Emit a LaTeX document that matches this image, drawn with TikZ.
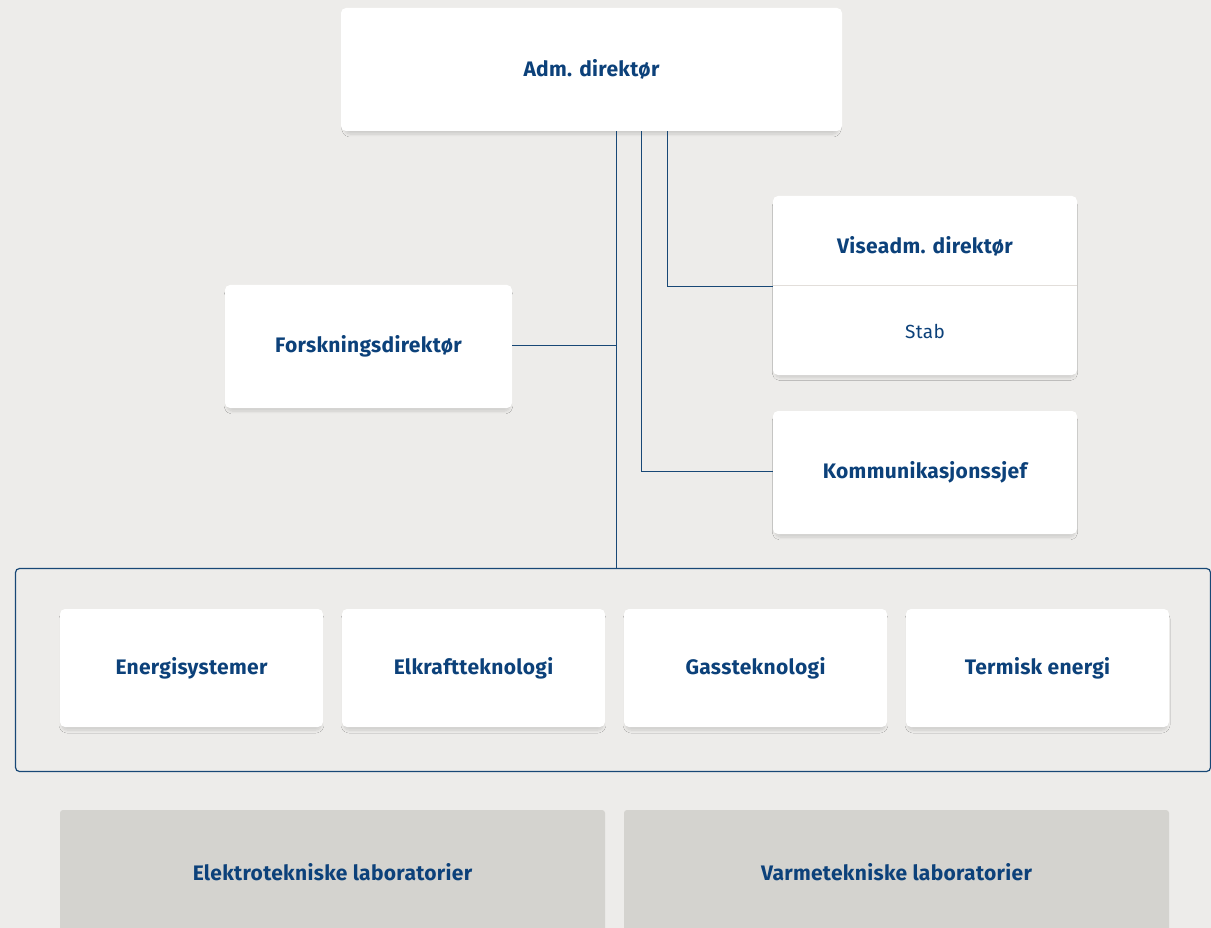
\documentclass[tikz,border=0pt]{standalone}
\usepackage{fontspec}
\setmainfont{Fira Sans}[LetterSpace=1.5]
\usetikzlibrary{shadows.blur,calc}
\definecolor{bg}{RGB}{237,236,234}
\definecolor{txt}{RGB}{12,65,122}
\definecolor{ln}{RGB}{24,72,118}
\definecolor{labgrey}{RGB}{212,211,207}
\definecolor{divc}{RGB}{226,222,218}
\tikzset{
  box/.style={draw=none, fill=white, rounded corners=5pt, align=center,
    font=\fontsize{21}{23}\selectfont\bfseries, text=txt,
    blur shadow={shadow xshift=0pt, shadow yshift=-4pt, shadow blur radius=3pt, shadow opacity=14, shadow blur steps=8, shadow scale=0.985}},
  labbox/.style={draw=none, fill=labgrey, rounded corners=3pt, align=center,
    font=\fontsize{21}{23}\selectfont\bfseries, text=txt},
  conn/.style={draw=ln, line width=1pt},
  group/.style={draw=ln, line width=1.2pt, rounded corners=4pt, fill=none},
  plain/.style={font=\fontsize{19}{21}\selectfont, text=txt},
  boldlabel/.style={font=\fontsize{21}{23}\selectfont\bfseries, text=txt},
}
\begin{document}
\begin{tikzpicture}[x=1pt,y=-1pt]
\useasboundingbox (0,0) rectangle (1211,928);
\clip (0,0) rectangle (1211,928);
\fill[bg] (0,0) rectangle (1211,928);

% container
\node[group, minimum width=1195pt, minimum height=203pt, inner sep=0pt] (container) at (613,670) {};

% top
\node[box, minimum width=501pt, minimum height=123pt, inner sep=0pt] (adm) at (591.5,69.5) {Adm. direktør};

% Viseadm
\node[box, minimum width=304pt, minimum height=179pt, inner sep=0pt] (vise) at (925,285.5) {};
\draw[divc, line width=1pt] ([yshift=-0.5pt]vise.west) -- ([yshift=-0.5pt]vise.east);
\node[boldlabel] (visetitle) at (925,246) {Viseadm. direktør};
\node[plain] (stab) at (925,331) {Stab};

\node[box, minimum width=304pt, minimum height=123pt, inner sep=0pt] (komm) at (925,472.5) {Kommunikasjonssjef};
\node[box, minimum width=287pt, minimum height=123pt, inner sep=0pt] (forsk) at (368.5,346.5) {Forskningsdirektør};

% departments
\node[box, minimum width=263pt, minimum height=118pt, inner sep=0pt] (energi) at (191.5,668) {Energisystemer};
\node[box, minimum width=263pt, minimum height=118pt, inner sep=0pt] (elkraft) at (473.5,668) {Elkraftteknologi};
\node[box, minimum width=263pt, minimum height=118pt, inner sep=0pt] (gass) at (755.5,668) {Gassteknologi};
\node[box, minimum width=263pt, minimum height=118pt, inner sep=0pt] (termisk) at (1037.5,668) {Termisk energi};

% labs
\node[labbox, minimum width=545pt, minimum height=140pt, inner sep=0pt] (elab) at (332.5,880) {};
\node[labbox, minimum width=545pt, minimum height=140pt, inner sep=0pt] (vlab) at (896.5,880) {};
\node[boldlabel] (elabt) at (332.5,872) {Elektrotekniske laboratorier};
\node[boldlabel] (vlabt) at (896.5,872) {Varmetekniske laboratorier};

% connectors
\coordinate (t1) at ([xshift=24.5pt]adm.south);
\coordinate (t2) at ([xshift=49.5pt]adm.south);
\coordinate (t3) at ([xshift=75.5pt]adm.south);
\draw[conn] (t3) |- ([yshift=-1.5pt]vise.west);
\draw[conn] (t2) |- ([yshift=1.5pt]komm.west);
\draw[conn] (t1) -- (t1 |- container.north);
\draw[conn] ([yshift=1.5pt]forsk.east) -- ([yshift=1.5pt]forsk.east -| t1);
\end{tikzpicture}
\end{document}
